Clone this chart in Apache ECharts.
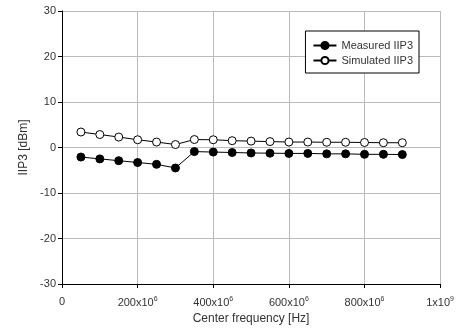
<!DOCTYPE html>
<html>
<head>
<meta charset="utf-8">
<script src="https://cdn.jsdelivr.net/npm/echarts@6/dist/echarts.min.js"></script>
<style>
	html, body { margin: 0; padding: 0; background: #fff; }
	#chart { width: 457px; height: 334px; }
</style>
</head>
<body>
<div id="chart"></div>
<script>
// frequency points [Hz]
var freqs = [50e6, 100e6, 150e6, 200e6, 250e6, 300e6, 350e6, 400e6, 450e6,
	500e6, 550e6, 600e6, 650e6, 700e6, 750e6, 800e6, 850e6, 900e6];
var measured = [-2.1, -2.5, -2.9, -3.3, -3.7, -4.5, -0.9, -1.0, -1.1,
	-1.2, -1.25, -1.3, -1.3, -1.4, -1.4, -1.5, -1.5, -1.55];
var simulated = [3.4, 2.85, 2.3, 1.7, 1.2, 0.65, 1.75, 1.7, 1.5,
	1.4, 1.3, 1.2, 1.2, 1.15, 1.15, 1.1, 1.05, 1.05];
var xTickLabels = {0: ['0', ''], 200e6: ['200x10', '6'], 400e6: ['400x10', '6'],
	600e6: ['600x10', '6'], 800e6: ['800x10', '6'], 1e9: ['1x10', '9']};

function pairs(xs, ys) {
	var out = [];
	for (var i = 0; i < xs.length; i++) out.push([xs[i], ys[i]]);
	return out;
}

var font = 'Liberation Sans, Arial, sans-serif';
var chart = echarts.init(document.getElementById('chart'));
var option = {
	animation: false,
	textStyle: { fontFamily: font },
	grid: { left: 62, right: 16, top: 11, bottom: 50, show: false },
	legend: {
		orient: 'vertical',
		right: 38,
		top: 31,
		itemWidth: 23,
		itemHeight: 9,
		itemGap: 4,
		padding: [9, 6, 7, 7],
		borderColor: '#000',
		borderWidth: 1,
		backgroundColor: '#fff',
		textStyle: { fontSize: 11, color: '#333', fontFamily: font },
		data: ['Measured IIP3', 'Simulated IIP3']
	},
	xAxis: {
		type: 'value',
		min: 0,
		max: 1e9,
		interval: 200e6,
		name: 'Center frequency [Hz]',
		nameLocation: 'middle',
		nameGap: 29,
		nameTextStyle: { fontSize: 12, color: '#333' },
		axisLine: { show: true, onZero: false, lineStyle: { color: '#000', width: 1 } },
		axisTick: { show: true, inside: false, length: 4, lineStyle: { color: '#000' } },
		axisLabel: {
			margin: 12,
			color: '#333',
			fontSize: 11,
			formatter: function(v) {
				var t = xTickLabels[v];
				if (!t) return '';
				return '{a|' + t[0] + '}' + (t[1] ? '{s|' + t[1] + '}' : '');
			},
			rich: {
				a: { fontSize: 11, color: '#333' },
				s: { fontSize: 7, color: '#333', padding: [0, 0, 6, 0] }
			}
		},
		splitLine: { show: true, lineStyle: { color: '#bbb', width: 1 } }
	},
	yAxis: {
		type: 'value',
		min: -30,
		max: 30,
		interval: 10,
		name: 'IIP3 [dBm]',
		nameLocation: 'middle',
		nameGap: 28,
		nameTextStyle: { fontSize: 12, color: '#333' },
		axisLine: { show: true, onZero: false, lineStyle: { color: '#000', width: 1 } },
		axisTick: { show: true, inside: false, length: 4, lineStyle: { color: '#000' } },
		axisLabel: { color: '#333', fontSize: 11, margin: 6 },
		splitLine: { show: true, lineStyle: { color: '#bbb', width: 1 } }
	},
	series: [{
		name: 'Measured IIP3',
		type: 'line',
		data: pairs(freqs, measured),
		symbol: 'circle',
		symbolSize: 8,
		lineStyle: { color: '#000', width: 1 },
		itemStyle: { color: '#000', borderColor: '#000', borderWidth: 1 }
	}, {
		name: 'Simulated IIP3',
		type: 'line',
		data: pairs(freqs, simulated),
		symbol: 'circle',
		symbolSize: 8,
		lineStyle: { color: '#000', width: 1 },
		itemStyle: { color: '#fff', borderColor: '#000', borderWidth: 1 }
	}]
};
chart.setOption(option);
</script>
</body>
</html>
